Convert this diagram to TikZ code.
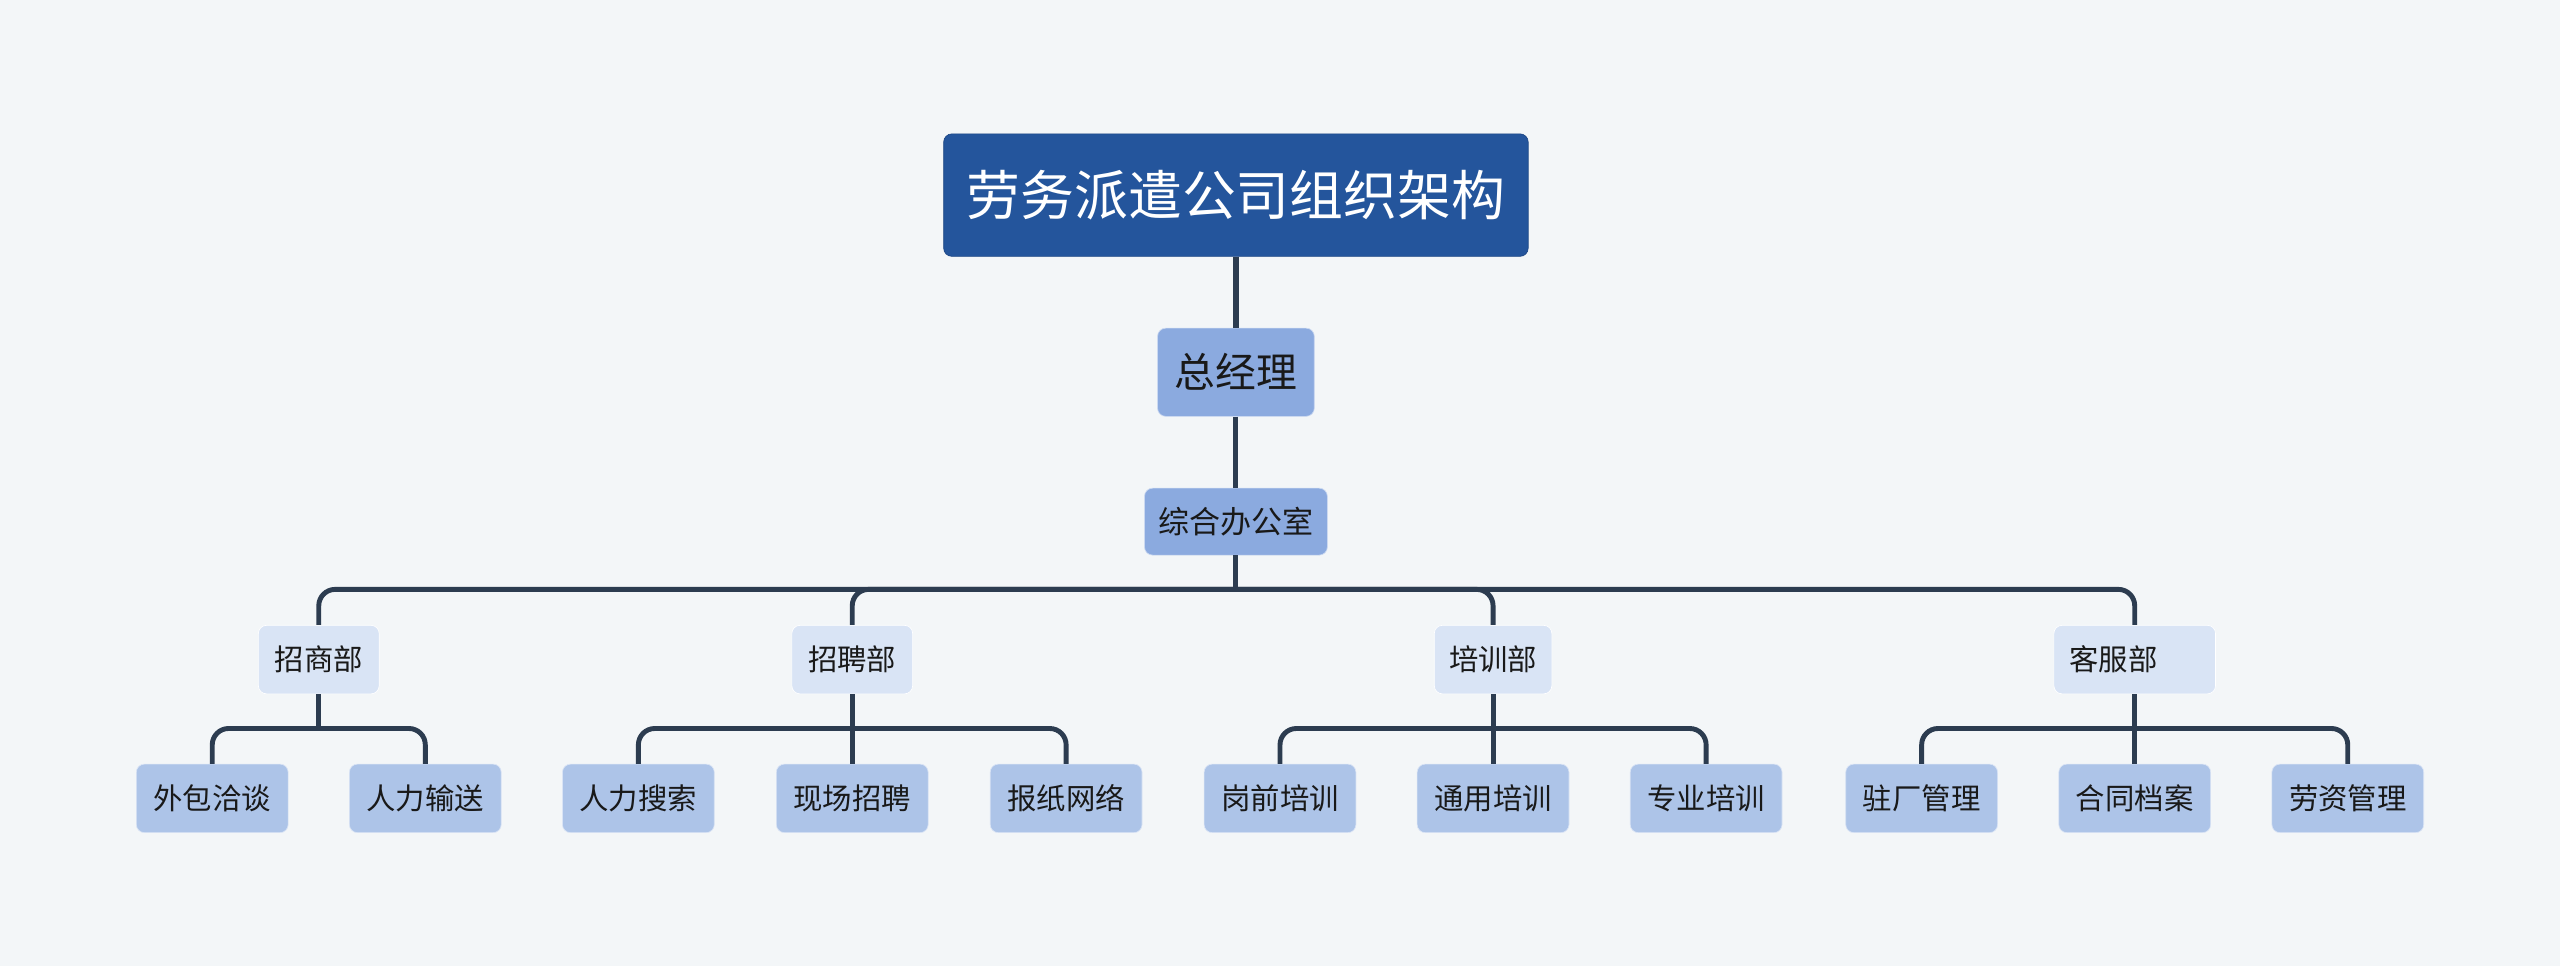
\documentclass[tikz,border=0pt]{standalone}
\usepackage{fontspec}
\setmainfont{Noto Sans CJK SC}

\definecolor{bgcol}{HTML}{F3F6F8}
\definecolor{rootblue}{HTML}{24559C}
\definecolor{rootedge}{HTML}{1C4684}
\definecolor{headblue}{HTML}{8BAADF}
\definecolor{deptblue}{HTML}{D9E4F5}
\definecolor{leafblue}{HTML}{ADC4E8}
\definecolor{linkcol}{HTML}{2C3C50}

\begin{document}
\begin{tikzpicture}[x=1pt,y=-1pt,
    box/.style={rounded corners=5pt,inner sep=0pt,text=black!90,
        font=\fontsize{18}{18}\selectfont},
    rootbox/.style={box,fill=rootblue,draw=rootedge,text=white,
        minimum width=358pt,minimum height=75pt,font=\fontsize{33}{33}\selectfont},
    headbox/.style={box,fill=headblue,draw=white!55!headblue},
    deptbox/.style={box,fill=deptblue,draw=white,minimum height=42pt},
    leafbox/.style={box,fill=leafblue,draw=white!55!leafblue,
        minimum width=93pt,minimum height=42pt},
    link/.style={draw=linkcol,line width=3pt,rounded corners=10pt}]

        % background
        \fill[bgcol] (0,0) rectangle (1568,591.7);
        \useasboundingbox (0,0) rectangle (1568,591.7);

        % top
        \node[rootbox] (root) at (757,119.5) {劳务派遣公司组织架构};
        \node[headbox,minimum width=96pt,minimum height=54pt,
            font=\fontsize{25}{25}\selectfont] (gm) at (757,228) {总经理};
        \node[headbox,minimum width=112pt,minimum height=41pt,
            font=\fontsize{19}{19}\selectfont] (office) at (757,319.5) {综合办公室};
        \coordinate (bar) at (757,361);

        % departments
        \node[deptbox,minimum width=74pt] (zs) at (195.25,404) {招商部};
        \node[deptbox,minimum width=74pt] (zp) at (522,404) {招聘部};
        \node[deptbox,minimum width=72pt] (px) at (914.5,404) {培训部};
        \node[deptbox,minimum width=99pt] (kf) at (1307.5,404) {\makebox[80pt][l]{客服部}};

        % leaves
        \node[leafbox] (wb) at (130,489) {外包洽谈};
        \node[leafbox] (rs) at (260.5,489) {人力输送};
        \node[leafbox] (rss) at (391,489) {人力搜索};
        \node[leafbox] (xc) at (522,489) {现场招聘};
        \node[leafbox] (bz) at (653,489) {报纸网络};
        \node[leafbox] (gq) at (784,489) {岗前培训};
        \node[leafbox] (ty) at (914.5,489) {通用培训};
        \node[leafbox] (zy) at (1045,489) {专业培训};
        \node[leafbox] (zc) at (1177,489) {驻厂管理};
        \node[leafbox] (ht) at (1307.5,489) {合同档案};
        \node[leafbox] (lz) at (1438,489) {劳资管理};

        % links
        \draw[link,line width=4pt] (root) -- (gm);
        \draw[link] (gm) -- (office);
        \draw[link] (office.south) -- (bar);
        \foreach \d in {zs,zp,px,kf}
            \draw[link] (bar) -| (\d.north);
        \foreach \d in {zs,zp,px,kf}
            \draw[link] (\d.south) -- ++(0,21) coordinate (\d-j);
        \foreach \d/\l in {zs/wb,zs/rs,zp/rss,zp/xc,zp/bz,px/gq,px/ty,px/zy,kf/zc,kf/ht,kf/lz}
            \draw[link] (\d-j) -| (\l.north);

    \end{tikzpicture}
\end{document}
